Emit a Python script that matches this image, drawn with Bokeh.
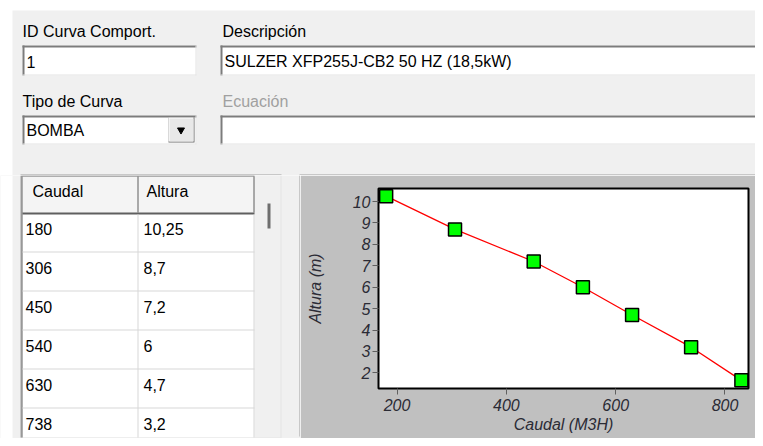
from bokeh.plotting import figure
from bokeh.models import Range1d, FixedTicker, ColumnDataSource
from bokeh.layouts import column, row
from bokeh.core.properties import value
from bokeh.embed import file_html
from bokeh.resources import INLINE

# ---------------- data ----------------
caudal = [180, 306, 450, 540, 630, 738, 830]
altura = [10.25, 8.7, 7.2, 6, 4.7, 3.2, 1.65]
x_ticks = [200, 400, 600, 800]
y_ticks = [2, 3, 4, 5, 6, 7, 8, 9, 10]
col_headers = ["Caudal", "Altura"]
id_curva = "1"
descripcion = "SULZER XFP255J-CB2 50 HZ (18,5kW)"
tipo_curva = "BOMBA"
x_title = "Caudal (M3H)"
y_title = "Altura (m)"

FONT = value("Liberation Sans")
BG = "#f0f0f0"
W, H = 755, 438


def fmt(v):
    return f"{v:g}".replace(".", ",")


def pix_fig(x0, x1, y0, y1, bg):
    f = figure(width=x1 - x0, height=y1 - y0,
               x_range=Range1d(x0, x1), y_range=Range1d(y1, y0),
               output_backend="svg", toolbar_location=None, min_border=0,
               x_axis_type=None, y_axis_type=None, outline_line_color=None,
               background_fill_color=bg, border_fill_color=bg,
               frame_align=False)
    return f


def boxes(f, items):
    src = ColumnDataSource(dict(l=[i[0] for i in items], r=[i[1] for i in items],
                                t=[i[2] for i in items], b=[i[3] for i in items],
                                c=[i[4] for i in items]))
    f.quad(left="l", right="r", top="t", bottom="b", fill_color="c",
           line_color=None, source=src)


def texts(f, items, size="16px"):
    src = ColumnDataSource(dict(x=[i[0] for i in items], y=[i[1] for i in items],
                                t=[i[2] for i in items], c=[i[3] for i in items]))
    f.text(x="x", y="y", text="t", text_color="c", source=src, text_font=FONT,
           text_font_size=size, text_baseline="middle", text_align="left")


def sunken(l, r, t, b):
    return [
        (l, r, t, b, "#ffffff"),
        (l, r, t, t + 2, "#7c7c7c"),
        (l, l + 2, t, b, "#7c7c7c"),
        (l, r, b - 1, b, "#e3e3e3"),
        (r - 1, r, t, b, "#e3e3e3"),
    ]


# ---------------- top form ----------------
top = pix_fig(0, W, 0, 175, "#ffffff")
items = [(12, W, 10, 175, BG)]
items += sunken(22, 196, 45, 75)
items += sunken(220, W + 2, 45, 75)
items += sunken(22, 196, 115, 144)
items += sunken(220, W + 2, 115, 144)
# combo button
items += [(168, 194, 117, 142, "#696969"), (168, 193, 117, 141, "#ffffff"),
          (169, 193, 118, 141, "#e8e8e8")]
# table top border and panel top border
items += [(20, 281, 174, 175, "#a0a0a0"), (299, W, 174, 175, "#a0a0a0")]
boxes(top, items)
top.scatter(x=[180.5], y=[129.5], marker="inverted_triangle", size=7,
            fill_color="black", line_color="black")
texts(top, [
    (22, 31, "ID Curva Comport.", "#000000"),
    (222, 31, "Descripción", "#000000"),
    (26, 61, id_curva, "#000000"),
    (224, 61, descripcion, "#000000"),
    (22, 101, "Tipo de Curva", "#000000"),
    (222, 101, "Ecuación", "#a0a0a0"),
    (26, 130, tipo_curva, "#000000"),
])

# ---------------- table ----------------
tab = pix_fig(0, 300, 175, H, BG)
tab_items = [(0, 12, 175, H, "#ffffff"),
             (22, 254, 175, 213, "#f4f4f4"),
             (22, 254, 213, 437, "#ffffff"),
             (254, 280, 175, 437, BG),
             (280, 281, 175, 437, "#e3e3e3"),
             (20, 281, 437, 438, "#e3e3e3"),
             (20, 21, 175, 437, "#a0a0a0"),
             (21, 22, 175, 437, "#696969"),
             (22, 254, 175, 176, "#696969"),
             (22, 254, 212, 214, "#5f5f5f"),
             (137, 138, 176, 212, "#5f5f5f"),
             (253, 254, 176, 212, "#5f5f5f"),
             (137, 138, 214, 437, "#d8d8d8"),
             (253, 254, 214, 437, "#d8d8d8"),
             (267, 270, 203, 228, "#6e6e6e"),
             (299, 300, 175, 436, "#a0a0a0")]
row_top, row_h = 213, 39
nrows = 6
for i in range(1, nrows):
    yl = row_top + i * row_h
    tab_items.append((22, 254, yl - 1, yl, "#d8d8d8"))
boxes(tab, tab_items)
t_items = [(32, 191, col_headers[0], "#000000"), (146, 191, col_headers[1], "#000000")]
for i in range(nrows):
    yc = row_top + row_h * i + 15
    t_items.append((25, yc, fmt(caudal[i]), "#000000"))
    t_items.append((143, yc, fmt(altura[i]), "#000000"))
texts(tab, t_items)

# ---------------- chart ----------------
p = figure(width=W - 300, height=H - 175, x_range=Range1d(166, 843),
           y_range=Range1d(1.27, 10.61), output_backend="svg",
           toolbar_location=None, min_border_left=78, min_border_right=W - 748,
           min_border_top=13, min_border_bottom=H - 388,
           background_fill_color="#ffffff", border_fill_color="#c0c0c0",
           outline_line_color="#000000", outline_line_width=2,
           frame_align=False)
p.grid.visible = False
p.line(caudal, altura, line_color="#ff0000", line_width=1.3)
p.scatter(caudal, altura, marker="square", size=13, fill_color="#00ff00",
          line_color="#000000", line_width=1.5)
p.xaxis.ticker = FixedTicker(ticks=x_ticks)
p.yaxis.ticker = FixedTicker(ticks=y_ticks)
for ax in (p.xaxis[0], p.yaxis[0]):
    ax.axis_line_color = None
    ax.major_tick_out = 6
    ax.major_tick_in = 0
    ax.minor_tick_out = 0
    ax.minor_tick_in = 0
    ax.major_tick_line_color = "#606060"
    ax.major_label_text_font = "Liberation Sans"
    ax.major_label_text_font_style = "italic"
    ax.major_label_text_font_size = "16px"
    ax.major_label_text_color = "#2b2b35"
    ax.axis_label_text_font = "Liberation Sans"
    ax.axis_label_text_font_style = "italic"
    ax.axis_label_text_font_size = "16px"
    ax.axis_label_text_color = "#2b2b35"
p.xaxis.axis_label = x_title
p.yaxis.axis_label = y_title
p.xaxis.major_label_standoff = 4
p.xaxis.axis_label_standoff = 2
p.yaxis.major_label_standoff = 2
p.yaxis.axis_label_standoff = 26

layout = column(top, row(tab, p))
open("out.html", "w").write(file_html(layout, INLINE))
